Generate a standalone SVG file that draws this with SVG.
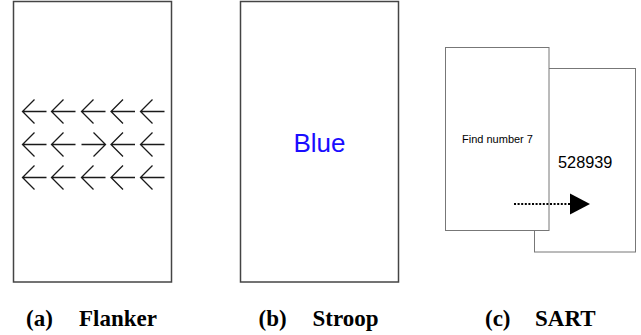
<svg xmlns="http://www.w3.org/2000/svg" width="641" height="335" viewBox="0 0 641 335">
<style>
.box{fill:#fff;stroke:#444;stroke-width:1.5}
.sbox{fill:#fff;stroke:#777;stroke-width:1}
.arr{fill:none;stroke:#1a1a1a;stroke-width:1.3}
.cap{font-family:"Liberation Serif","Times New Roman",serif;font-weight:bold;font-size:23px;fill:#000}
.sans{font-family:"Liberation Sans",Arial,sans-serif}
</style>
<defs>
<path id="la" class="arr" d="M0,0 H24 M12,-12 L0,0 L12,12"/>
<path id="ra" class="arr" d="M0,0 H24 M12,-12 L24,0 L12,12"/>
</defs>
<rect width="641" height="335" fill="#fff"/>
<g id="flanker">
<rect class="box" x="13.5" y="1.5" width="158" height="280.5"/>
<use href="#la" x="22.5" y="111.5"/><use href="#la" x="51.5" y="111.5"/><use href="#la" x="81.5" y="111.5"/><use href="#la" x="111" y="111.5"/><use href="#la" x="140.5" y="111.5"/>
<use href="#la" x="22.5" y="144.5"/><use href="#la" x="51.5" y="144.5"/><use href="#ra" x="81.5" y="144.5"/><use href="#la" x="111" y="144.5"/><use href="#la" x="140.5" y="144.5"/>
<use href="#la" x="22.5" y="177.5"/><use href="#la" x="51.5" y="177.5"/><use href="#la" x="81.5" y="177.5"/><use href="#la" x="111" y="177.5"/><use href="#la" x="140.5" y="177.5"/>
</g>
<g id="stroop">
<rect class="box" x="240.5" y="1.5" width="158" height="280.5"/>
<text class="sans" x="319.5" y="151.5" text-anchor="middle" font-size="26" fill="#1a0dff">Blue</text>
</g>
<g id="sart-back">
<rect class="sbox" x="534.5" y="68.5" width="101" height="183.5"/>
<text class="sans" x="585.2" y="167.5" text-anchor="middle" font-size="16.3" fill="#000">528939</text>
</g>
<g id="sart-front">
<rect class="sbox" x="445.5" y="47.5" width="103.5" height="183"/>
<text class="sans" x="497.5" y="142.5" text-anchor="middle" font-size="11" fill="#000">Find number 7</text>
</g>
<g id="connectors">
<line x1="514" y1="204" x2="571" y2="204" stroke="#000" stroke-width="2" stroke-dasharray="2,1.6"/>
<polygon points="570,193.5 590,204 570,214.5" fill="#000"/>
</g>
<g id="captions">
<text class="cap" x="26" y="326">(a)</text><text class="cap" x="79" y="326">Flanker</text>
<text class="cap" x="258.5" y="326">(b)</text><text class="cap" x="312.5" y="326">Stroop</text>
<text class="cap" x="485" y="326">(c)</text><text class="cap" x="535" y="326">SART</text>
</g>
</svg>
